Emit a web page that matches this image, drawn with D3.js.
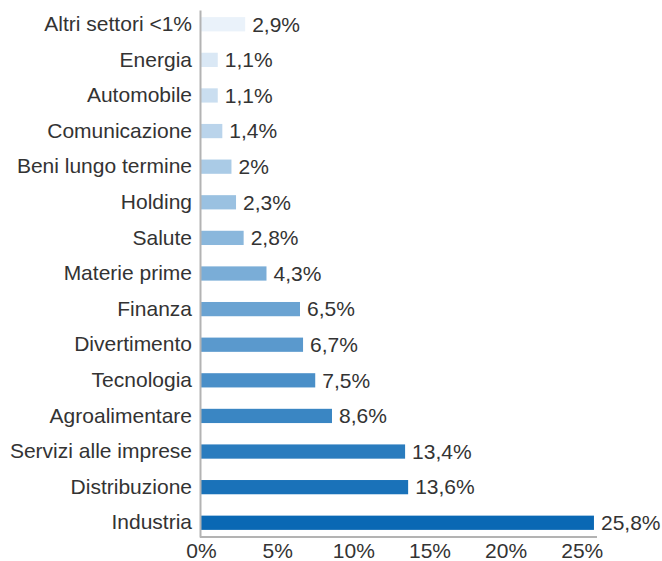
<!DOCTYPE html>
<html>
<head>
<meta charset="utf-8">
<script src="https://cdn.jsdelivr.net/npm/d3@7"></script>
<style>
  html, body { margin: 0; padding: 0; background: #fff; }
  svg { display: block; }
  text { font-family: "Liberation Sans", Arial, Helvetica, sans-serif; fill: #333; }
</style>
</head>
<body>
<svg id="chart" width="662" height="561"></svg>
<script>
const categories = [
  "Altri settori <1%", "Energia", "Automobile", "Comunicazione", "Beni lungo termine",
  "Holding", "Salute", "Materie prime", "Finanza", "Divertimento",
  "Tecnologia", "Agroalimentare", "Servizi alle imprese", "Distribuzione", "Industria"
];
const values = [2.9, 1.1, 1.1, 1.4, 2.0, 2.3, 2.8, 4.3, 6.5, 6.7, 7.5, 8.6, 13.4, 13.6, 25.8];
const valueLabels = ["2,9%", "1,1%", "1,1%", "1,4%", "2%", "2,3%", "2,8%", "4,3%", "6,5%", "6,7%", "7,5%", "8,6%", "13,4%", "13,6%", "25,8%"];
const tickValues = [0, 5, 10, 15, 20, 25];
const tickLabels = ["0%", "5%", "10%", "15%", "20%", "25%"];

const svg = d3.select("#chart");
const fontSize = 21;

const x = d3.scaleLinear().domain([0, 26]).range([201, 597]);
const y = d3.scaleBand().domain(categories).range([10, 537]).paddingInner(0.6).paddingOuter(0.2);

const colorInterp = d3.interpolateRgb("#eaf2fa", "#0a68b4");
const color = (i) => colorInterp(i / (categories.length - 1));

// bars
svg.append("g").selectAll("rect")
  .data(categories)
  .join("rect")
  .attr("x", x(0))
  .attr("y", d => y(d))
  .attr("width", (d, i) => x(values[i]) - x(0))
  .attr("height", y.bandwidth())
  .attr("fill", (d, i) => color(i));

// value labels
svg.append("g").selectAll("text")
  .data(categories)
  .join("text")
  .attr("x", (d, i) => x(values[i]) + 7)
  .attr("y", d => y(d) + y.bandwidth() / 2)
  .attr("dy", "0.35em")
  .style("font-size", fontSize + "px")
  .text((d, i) => valueLabels[i]);

// y axis
const yAxis = svg.append("g")
  .attr("transform", `translate(${x(0) - 1},0)`)
  .call(d3.axisLeft(y).tickSize(0).tickPadding(8));
yAxis.select(".domain").attr("stroke", "#b3b3b3").attr("stroke-width", 2);
yAxis.selectAll("text").style("font-size", fontSize + "px").attr("fill", "#333").attr("font-family", null);

// x axis
const xAxis = svg.append("g")
  .attr("transform", `translate(0,537)`)
  .call(d3.axisBottom(x).tickValues(tickValues).tickFormat((d, i) => tickLabels[i]).tickSize(0).tickPadding(6));
xAxis.select(".domain").attr("stroke", "#b3b3b3").attr("stroke-width", 2).attr("d", `M${x(0) - 1},0H${x.range()[1]}`);
xAxis.selectAll("text").style("font-size", fontSize + "px").attr("fill", "#333").attr("font-family", null);
</script>
</body>
</html>
